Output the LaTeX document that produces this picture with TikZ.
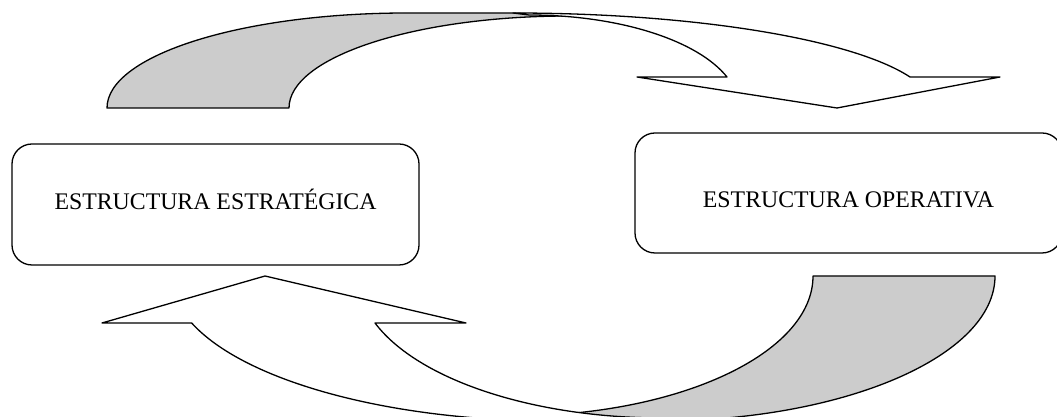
\documentclass[tikz,border=0pt]{standalone}
\usepackage{fontspec}
\setmainfont{Liberation Serif}
\definecolor{backgray}{HTML}{CCCCCC}
\tikzset{
  box/.style={draw, line width=1.3pt, rounded corners=20pt, inner sep=0pt,
    font=\fontsize{23.8}{28}\selectfont},
  band/.style={draw, line width=1.3pt, line join=round, fill=white},
  backband/.style={band, fill=backgray}
}
\begin{document}
\begin{tikzpicture}[x=1pt,y=1pt]

    % --- Frame ---
    \useasboundingbox (0,0) rectangle (1057,417);
    \clip (0,0) rectangle (1057,417);

    % --- Boxes ---
    \node[box, minimum width=407pt, minimum height=121pt, text height=15.8pt, text depth=6pt]
        (estrategica) at (215.5,212.5) {ESTRUCTURA ESTRATÉGICA};
    \node[box, minimum width=427pt, minimum height=120pt, text height=29.8pt, text depth=0pt]
        (operativa) at (848.5,224) {ESTRUCTURA OPERATIVA};

    % --- Upper curved arrow ---
    % Back band (shaded), rising from the left base
    \draw[backband] (107,309) arc[start angle=180, end angle=90, x radius=300, y radius=95]
        -- (513,404) -- (569,401)
        arc[start angle=90, end angle=180, x radius=280, y radius=92] -- cycle;
    % Front band with the head pointing down
    \draw[band] (513,404) arc[start angle=90, end angle=19.05, x radius=420, y radius=95]
        -- (1000,340) -- (837,309) -- (637,340) -- (727,340)
        arc[start angle=19.47, end angle=90, x radius=210, y radius=93] -- cycle;

    % --- Lower curved arrow ---
    % Back band (shaded), falling from the right base
    \draw[backband] (813,141) -- (995,141)
        arc[start angle=0, end angle=-90, x radius=337, y radius=145]
        -- (513,1) arc[start angle=-90, end angle=0, x radius=300, y radius=140] -- cycle;
    % Front band with the head pointing up
    \draw[band] (554,-4) arc[start angle=-90, end angle=-161.1, x radius=383, y radius=145]
        -- (102,94) -- (265,141) -- (466,94) -- (375,94)
        arc[start angle=-160.67, end angle=-90, x radius=305, y radius=142] -- cycle;

\end{tikzpicture}
\end{document}
